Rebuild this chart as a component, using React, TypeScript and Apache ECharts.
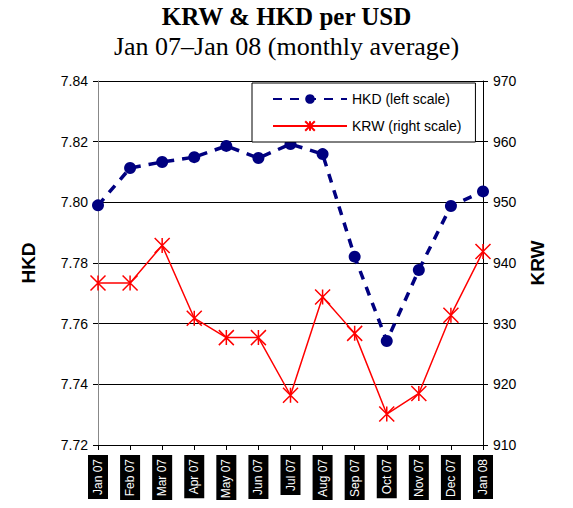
import React, { useEffect, useRef } from "react";
import * as echarts from "echarts";

const months = ["Jan 07", "Feb 07", "Mar 07", "Apr 07", "May 07", "Jun 07", "Jul 07", "Aug 07", "Sep 07", "Oct 07", "Nov 07", "Dec 07", "Jan 08"];
const hkd = [7.799, 7.8113, 7.8133, 7.8149, 7.8186, 7.8146, 7.8192, 7.8159, 7.7821, 7.7543, 7.7777, 7.7988, 7.8036];
const krw = [936.7, 936.7, 942.9, 930.9, 927.7, 927.7, 918.2, 934.4, 928.4, 915.1, 918.5, 931.4, 941.9];

const SANS = "'Liberation Sans', Arial, sans-serif";
const SERIF = "'Liberation Serif', 'Times New Roman', serif";
const STAR = "path://M0,0L10,10M10,0L0,10M5,0L5,10";

export default function App() {
  const ref = useRef<HTMLDivElement>(null);
  useEffect(() => {
    if (!ref.current) return;
    const chart = echarts.init(ref.current, undefined, { renderer: "svg" });
    chart.setOption({
      animation: false,
      backgroundColor: "#fff",
      title: {
        text: "KRW & HKD per USD",
        subtext: "Jan 07\u2013Jan 08 (monthly average)",
        left: "center",
        top: -1,
        itemGap: 4,
        textStyle: { fontFamily: SERIF, fontWeight: "bold", fontSize: 25, color: "#000" },
        subtextStyle: { fontFamily: SERIF, fontSize: 26, color: "#000" },
      },
      legend: {
        left: 252,
        top: 83,
        orient: "vertical",
        itemWidth: 74,
        itemHeight: 12,
        itemGap: 13,
        padding: [9, 14, 9, 20],
        backgroundColor: "#fff",
        borderColor: "#000",
        borderWidth: 1,
        textStyle: { fontFamily: SANS, fontSize: 14, color: "#000" },
        data: ["HKD (left scale)", "KRW (right scale)"],
      },
      grid: { left: 98, right: 90, top: 81, bottom: 63 },
      xAxis: {
        type: "category",
        data: months,
        boundaryGap: false,
        axisLine: { lineStyle: { color: "#000", width: 1 } },
        axisTick: { show: true, length: 5, lineStyle: { color: "#000" } },
        axisLabel: {
          rotate: 90,
          interval: 0,
          margin: 10,
          fontFamily: SANS,
          fontSize: 12,
          color: "#fff",
          backgroundColor: "#000",
          padding: [4, 4, 4, 4],
        },
      },
      yAxis: [
        {
          type: "value",
          min: 7.72,
          max: 7.84,
          interval: 0.02,
          name: "HKD",
          nameLocation: "middle",
          nameGap: 60,
          nameRotate: 90,
          nameTextStyle: { fontFamily: SANS, fontSize: 19, fontWeight: "bold", color: "#000" },
          axisLine: { show: true, lineStyle: { color: "#888" } },
          axisTick: { show: true, length: 5, lineStyle: { color: "#000" } },
          axisLabel: {
            fontFamily: SANS,
            fontSize: 14,
            color: "#000",
            margin: 10,
            formatter: (v: number) => v.toFixed(2),
          },
          splitLine: { show: true, lineStyle: { color: "#000", width: 1 } },
        },
        {
          type: "value",
          min: 910,
          max: 970,
          interval: 10,
          name: "KRW",
          nameLocation: "middle",
          nameGap: 45,
          nameRotate: 90,
          nameTextStyle: { fontFamily: SANS, fontSize: 19, fontWeight: "bold", color: "#000" },
          axisLine: { show: true, lineStyle: { color: "#000" } },
          axisTick: { show: true, length: 5, lineStyle: { color: "#000" } },
          axisLabel: { fontFamily: SANS, fontSize: 14, color: "#000", margin: 10 },
          splitLine: { show: false },
        },
      ],
      series: [
        {
          name: "HKD (left scale)",
          type: "line",
          yAxisIndex: 0,
          data: hkd,
          symbol: "circle",
          symbolSize: 12,
          itemStyle: { color: "#000080" },
          lineStyle: { color: "#000080", width: 3.5, type: [9, 8] },
          z: 3,
        },
        {
          name: "KRW (right scale)",
          type: "line",
          yAxisIndex: 1,
          data: krw,
          symbol: STAR,
          symbolSize: 15,
          itemStyle: { color: "#ff0000", borderColor: "#ff0000", borderWidth: 1.5 },
          lineStyle: { color: "#ff0000", width: 1.5 },
          z: 2,
        },
      ],
    });
    return () => chart.dispose();
  }, []);
  return <div ref={ref} style={{ width: 573, height: 508, margin: -8 }} />;
}
